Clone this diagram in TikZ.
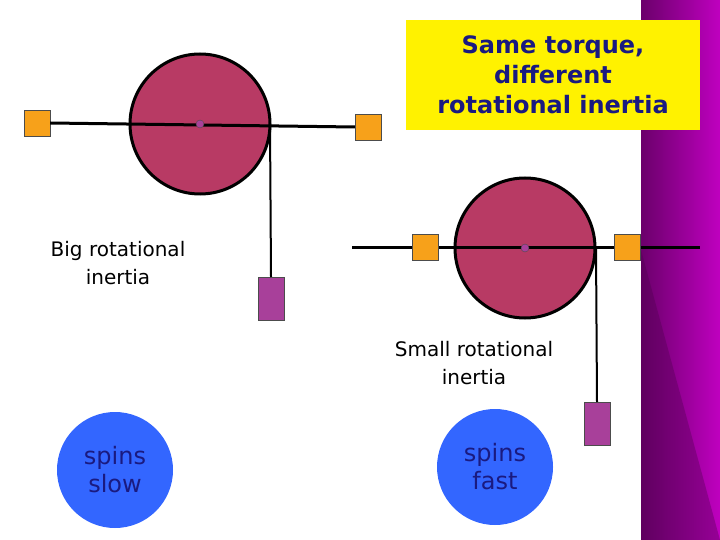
\documentclass[tikz,border=0pt]{standalone}
\usepackage{fontspec}
\setmainfont{DejaVu Sans}
\definecolor{wheelred}{HTML}{B83A64}
\definecolor{massorange}{HTML}{F7A11A}
\definecolor{masspurple}{HTML}{A8409A}
\definecolor{spinblue}{HTML}{3366FF}
\definecolor{navytext}{HTML}{1A1A80}
\tikzset{
  wheel/.style={circle, draw=black, line width=3pt, fill=wheelred, minimum size=140pt, inner sep=0pt},
  rod/.style={line width=3pt, black},
  string/.style={line width=2pt, black},
  weight/.style={draw=black!70, fill=massorange, minimum size=26pt, inner sep=0pt},
  hanger/.style={draw=black!70, fill=masspurple, minimum width=26pt, minimum height=43pt, inner sep=0pt},
  hub/.style={circle, draw=black!70, fill=masspurple, minimum size=8pt, inner sep=0pt},
  spin/.style={circle, fill=spinblue, minimum size=116pt, align=center, text=navytext, font=\fontsize{24}{28}\selectfont},
  caption/.style={align=center, font=\fontsize{20}{28}\selectfont}
}
\begin{document}
\begin{tikzpicture}[x=1pt, y=-1pt]
  \useasboundingbox (0,0) rectangle (720,540);
  % Side strip
  \shade[left color=black!45!violet!80!magenta, right color=magenta!50!violet] (641,0) rectangle (720,540);
  \fill[violet!60!black, opacity=0.35] (641,540) -- (641,250) -- (720,540) -- cycle;

  % Title
  \node[fill=yellow, minimum width=294pt, minimum height=110pt, align=center,
        text=navytext, font=\bfseries\fontsize{24}{30}\selectfont] (title) at (553,75)
        {Same torque,\\different\\rotational inertia};

  % Big rotational inertia
  \node[wheel] (bigwheel) at (200,124) {};
  \node[weight] (bigleft) at (37,123) {};
  \node[weight] (bigright) at (368,127) {};
  \draw[rod] (bigleft.east) -- (bigright.west);
  \node[hub] (bighub) at (bigwheel.center) {};
  \coordinate (bigtop) at (270,124);
  \node[hanger, anchor=north] (bighang) at (271,277) {};
  \draw[string] (bigtop) -- (bighang.north);
  \node[caption] (bigtext) at (118,263) {Big rotational\\inertia};

  % Small rotational inertia
  \node[wheel] (smallwheel) at (525,248) {};
  \coordinate (rodleft) at (352,247);
  \coordinate (rodright) at (700,247);
  \draw[rod] (rodleft) -- (rodright);
  \node[weight] (smallleft) at (425,247) {};
  \node[weight] (smallright) at (627,247) {};
  \node[hub] (smallhub) at (smallwheel.center) {};
  \coordinate (smalltop) at (596,248);
  \node[hanger, anchor=north] (smallhang) at (597,402) {};
  \draw[string] (smalltop) -- (smallhang.north);
  \node[caption] (smalltext) at (474,363) {Small rotational\\inertia};

  % Results
  \node[spin] (slow) at (115,470) {spins\\slow};
  \node[spin] (fast) at (495,467) {spins\\fast};
\end{tikzpicture}
\end{document}
